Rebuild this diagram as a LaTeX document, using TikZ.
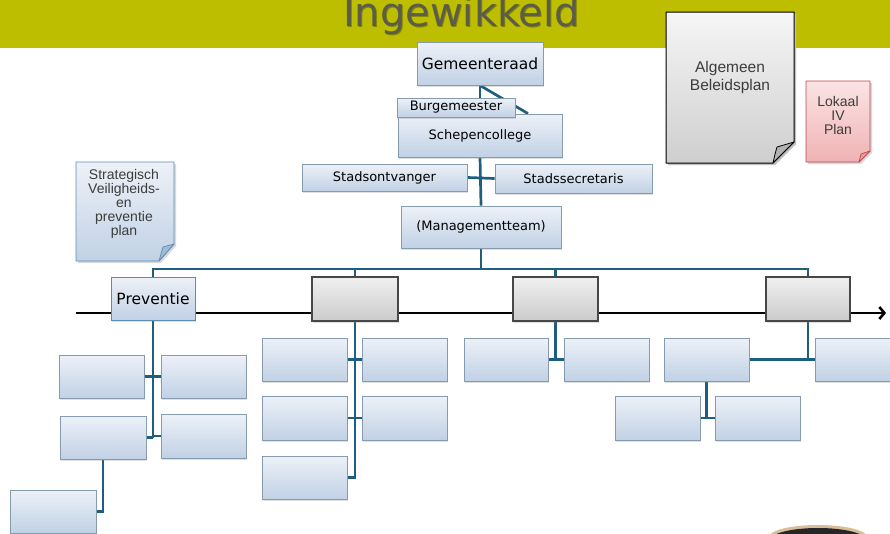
\documentclass[tikz,border=0pt]{standalone}
\usepackage{fontspec}
\setmainfont{DejaVu Sans}
\newfontfamily\arialf{Liberation Sans}
\usetikzlibrary{shadows,calc,arrows.meta}
\definecolor{bandcol}{RGB}{189,190,0}
\definecolor{titlecol}{RGB}{92,92,76}
\definecolor{conncol}{RGB}{30,95,128}
\definecolor{bxtop}{RGB}{237,241,248}
\definecolor{bxbot}{RGB}{193,209,229}
\definecolor{bxline}{RGB}{135,155,175}
\definecolor{gtop}{RGB}{240,240,240}
\definecolor{gbot}{RGB}{203,203,203}
\definecolor{doctxt}{RGB}{60,60,60}
\definecolor{pinktop}{RGB}{251,228,228}
\definecolor{pinkbot}{RGB}{240,178,180}
\definecolor{pinkline}{RGB}{190,70,75}
\definecolor{sblue}{RGB}{90,140,180}
\definecolor{tan}{RGB}{215,190,150}
\pgfdeclarelayer{back}
\pgfdeclarelayer{bg}
\pgfsetlayers{back,bg,main}
% #1 style, #2 x1, #3 y1, #4 x2, #5 y2, #6 name; text follows
\newcommand\mkbox[6]{\node[#1, minimum width={(#4-#2)*1pt}, minimum height={(#5-#3)*1pt}] (#6) at ({(#2+#4)/2},{(#3+#5)/2})}
\begin{document}
\begin{tikzpicture}[x=1pt,y=-1pt,
  bbox/.style={draw=bxline, line width=0.9pt, top color=bxtop, bottom color=bxbot, inner sep=0pt,
    drop shadow={shadow xshift=1.2pt, shadow yshift=-1.5pt, opacity=0.25}},
  gbox/.style={draw=black!72, line width=1.3pt, top color=gtop, bottom color=gbot, inner sep=0pt,
    drop shadow={shadow xshift=1.2pt, shadow yshift=-1.5pt, opacity=0.25}},
  boxtxt/.style={font=\fontsize{13}{15}\selectfont, text=black},
  bigtxt/.style={font=\fontsize{15.5}{18}\selectfont, text=black},
  conn/.style={draw=conncol, line width=2.7pt},
  doctext/.style={align=center, text=doctxt, inner sep=0pt},
]
\useasboundingbox (0,0) rectangle (890,533);
\clip (0,0) rectangle (890,533);

% title band
\begin{pgfonlayer}{back}
\fill[bandcol] (0,0) rectangle (890,48);
\node[anchor=base, text=black!30!bandcol, font=\fontsize{40}{40}\selectfont, inner sep=0pt] at (462.5,27) {Ingewikkeld};
\node[anchor=base, text=titlecol, font=\fontsize{40}{40}\selectfont, inner sep=0pt] (title) at (461.5,26) {Ingewikkeld};
\end{pgfonlayer}

% documents
\fill[black!25] (668,14) -- (796,14) -- (796,144) -- (775,165) -- (668,165) -- cycle;
\shade[top color=gray!7, bottom color=gray!38] (666,12) -- (794,12) -- (794,142) -- (773,163) -- (666,163) -- cycle;
\draw[black, line width=1pt, line join=round] (666,12) -- (794,12) -- (794,142) -- (773,163) -- (666,163) -- cycle;
\filldraw[fill=gray!60, draw=black, line width=0.8pt, line join=round] (773,163) .. controls (775,154) .. (777,147) -- (794,142) -- cycle;
\node[doctext, font=\arialf\fontsize{15.5}{18}\selectfont] (alg) at (730,77) {Algemeen\\Beleidsplan};

\fill[black!15] (808,83) -- (872,83) -- (872,153) -- (861,164) -- (808,164) -- cycle;
\shade[top color=pinktop, bottom color=pinkbot] (806,81) -- (870,81) -- (870,151) -- (859,162) -- (806,162) -- cycle;
\draw[pinkline, line width=0.9pt, line join=round] (806,81) -- (870,81) -- (870,151) -- (859,162) -- (806,162) -- cycle;
\filldraw[fill=pinkbot!80!pinkline, draw=pinkline, line width=0.7pt, line join=round] (859,162) -- (861,154) -- (870,151) -- cycle;
\node[doctext, font=\arialf\fontsize{14}{14}\selectfont] (lok) at (838,115) {Lokaal\\IV\\Plan};

\fill[black!15] (78,164) -- (176,164) -- (176,246) -- (161,263) -- (78,263) -- cycle;
\shade[top color=bxtop, bottom color=bxbot] (76,162) -- (174,162) -- (174,244) -- (159,261) -- (76,261) -- cycle;
\draw[sblue, line width=0.9pt, line join=round] (76,162) -- (174,162) -- (174,244) -- (159,261) -- (76,261) -- cycle;
\filldraw[fill=bxbot!70!sblue, draw=sblue, line width=0.7pt, line join=round] (159,261) -- (163,247) -- (174,244) -- cycle;
\node[doctext, font=\arialf\fontsize{14}{14}\selectfont] (svp) at (124,204) {Strategisch\\Veiligheids-\\en\\preventie\\plan};

% top part of the chart
\mkbox{bbox,bigtxt}{417}{42}{543}{85}{gr}{Gemeenteraad};
\mkbox{bbox,boxtxt}{398}{114}{562}{157}{sc}{Schepencollege};
\mkbox{bbox,boxtxt}{397}{98}{515}{117}{bm}{Burgemeester};
\mkbox{bbox,boxtxt}{302}{164}{467}{191}{so}{Stadsontvanger};
\mkbox{bbox,boxtxt}{495}{164}{652}{193}{ss}{Stadssecretaris};
\mkbox{bbox,boxtxt}{401}{206}{561}{248}{mt}{(Managementteam)};

% second level
\mkbox{bbox,bigtxt,draw=sblue}{111}{277}{195}{320}{prev}{Preventie};
\mkbox{gbox}{312}{277}{398}{321}{g1}{};
\mkbox{gbox}{513}{277}{598}{321}{g2}{};
\mkbox{gbox}{766}{277}{850}{321}{g3}{};

% under Preventie
\mkbox{bbox}{59}{355}{144}{398}{p1l}{};
\mkbox{bbox}{161}{355}{246}{398}{p1r}{};
\mkbox{bbox}{60}{416}{146}{459}{p2l}{};
\mkbox{bbox}{161}{414}{246}{458}{p2r}{};
\mkbox{bbox}{10}{490}{96}{533}{p3}{};

% under g1
\mkbox{bbox}{262}{338}{347}{381}{a1l}{};
\mkbox{bbox}{362}{338}{447}{381}{a1r}{};
\mkbox{bbox}{262}{396}{347}{440}{a2l}{};
\mkbox{bbox}{362}{396}{447}{440}{a2r}{};
\mkbox{bbox}{262}{456}{347}{499}{a3l}{};

% under g2
\mkbox{bbox}{464}{338}{548}{381}{b1l}{};
\mkbox{bbox}{564}{338}{649}{381}{b1r}{};

% under g3
\mkbox{bbox}{664}{338}{749}{381}{c1l}{};
\mkbox{bbox}{815}{338}{900}{381}{c1r}{};
\mkbox{bbox}{615}{396}{700}{440}{c2l}{};
\mkbox{bbox}{715}{396}{800}{440}{c2r}{};

% photo fragment at bottom right
\fill[tan] (818,537) ellipse [x radius=49, y radius=12];
\fill[black!85] (818,540) ellipse [x radius=48, y radius=12];

% connectors
\coordinate (bus) at (481,269);
\coordinate (axL) at (76,313);
\coordinate (axR) at (886,313);
\begin{pgfonlayer}{bg}
\draw[black, line width=2.6pt, -{Straight Barb[length=5pt,width=12pt]}] (axL) -- (axR);
\draw[conn] (gr.south) -- (sc.north);
\draw[conn] (gr.south) -- ($(sc.north)+(48,0)$);
\draw[conn] (sc.south) -- (mt.north);
\draw[conn] (so.east) -- (ss.west);
\draw[conn] (mt.south) -- (bus);
\draw[conn] (prev.north) -- (prev.north |- bus) -- (g3.north |- bus) -- (g3.north);
\draw[conn] (g1.north) -- (g1.north |- bus);
\draw[conn] (g2.north) -- (g2.north |- bus);
% Preventie subtree
\draw[conn] (prev.south) -- (prev.south |- p2l.east);
\draw[conn] (p1l.east) -- (p1r.west);
\draw[conn] (p2l.east) -- (p2l.east -| prev.south);
\draw[conn] (p2r.west) -- (p2r.west -| prev.south);
\draw[conn] (p2l.south) |- (p3.east);
% g1 subtree
\draw[conn] (g1.south) -- (g1.south |- a3l.east) -- (a3l.east);
\draw[conn] (a1l.east) -- (a1r.west);
\draw[conn] (a2l.east) -- (a2r.west);
% g2 subtree
\draw[conn] (g2.south) -- (g2.south |- b1l.east);
\draw[conn] (b1l.east) -- (b1r.west);
% g3 subtree
\draw[conn] (g3.south) -- (g3.south |- c1r.west);
\draw[conn] (c1l.east) -- (c1r.west);
\draw[conn] (c1l.south) -- (c1l.south |- c2l.east);
\draw[conn] (c2l.east) -- (c2r.west);
\end{pgfonlayer}
\end{tikzpicture}
\end{document}
